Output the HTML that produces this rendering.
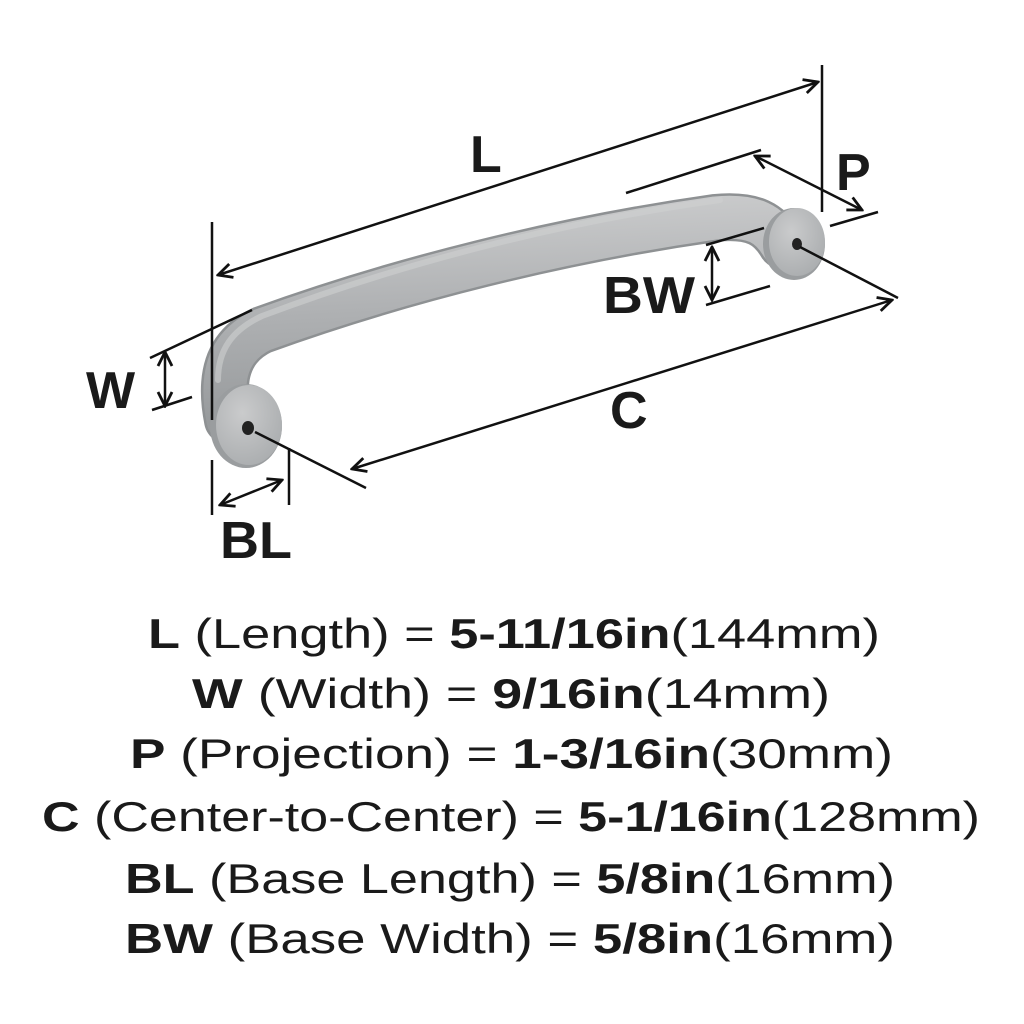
<!DOCTYPE html>
<html><head><meta charset="utf-8"><style>
html,body{margin:0;padding:0;background:#fff;}
svg{display:block;}
text{font-family:"Liberation Sans",sans-serif;fill:#1a1a1a;}
</style></head><body>
<svg width="1024" height="1024" viewBox="0 0 1024 1024" xmlns="http://www.w3.org/2000/svg">
<defs>
<linearGradient id="bar" x1="0" y1="0" x2="0.12" y2="1">
<stop offset="0" stop-color="#c9cacb"/><stop offset="0.5" stop-color="#aeb0b2"/><stop offset="1" stop-color="#979a9c"/>
</linearGradient>
<radialGradient id="disc" cx="0.4" cy="0.35" r="0.8">
<stop offset="0" stop-color="#cacbcc"/><stop offset="1" stop-color="#a6a9ab"/>
</radialGradient>
<marker id="ah" viewBox="0 0 10 10" refX="9" refY="5" markerWidth="7" markerHeight="7" orient="auto-start-reverse">
<path d="M1,1 L9,5 L1,9" fill="none" stroke="#111" stroke-width="1.6"/>
</marker>
</defs>
<!-- handle -->
<path d="M228,420 C222,390 220,350 262,330 C400,280 560,240 715,218 C755,214 770,225 782,245" fill="none" stroke="#8e9193" stroke-width="48" stroke-linecap="round"/>
<path d="M228,420 C222,390 220,350 262,330 C400,280 560,240 715,218 C755,214 770,225 782,245" fill="none" stroke="url(#bar)" stroke-width="43" stroke-linecap="round"/>
<path d="M218,380 C218,350 232,330 262,316 C400,264 560,222 720,200" fill="none" stroke="#cfd0d1" stroke-width="6" stroke-linecap="round" opacity="0.6"/>
<ellipse cx="794" cy="244" rx="31" ry="36" fill="#9a9d9f"/>
<ellipse cx="797" cy="242" rx="28" ry="34" fill="url(#disc)"/>
<ellipse cx="797" cy="244" rx="5" ry="6" fill="#222"/>
<ellipse cx="246" cy="426" rx="36" ry="42" fill="#9a9d9f"/>
<ellipse cx="249" cy="425" rx="33" ry="40" fill="url(#disc)"/>
<ellipse cx="248" cy="428" rx="6" ry="7" fill="#222"/>
<g stroke="#111" stroke-width="2.5" fill="none">
<line x1="218" y1="275" x2="818" y2="82" marker-start="url(#ah)" marker-end="url(#ah)"/>
<line x1="822" y1="65" x2="822" y2="212"/>
<line x1="212" y1="222" x2="212" y2="420"/>
<line x1="626" y1="193" x2="761" y2="150"/>
<line x1="755" y1="156" x2="862" y2="210" marker-start="url(#ah)" marker-end="url(#ah)"/>
<line x1="830" y1="226" x2="878" y2="212"/>
<line x1="706" y1="245" x2="764" y2="228"/>
<line x1="712" y1="247" x2="712" y2="300" marker-start="url(#ah)" marker-end="url(#ah)"/>
<line x1="706" y1="305" x2="770" y2="286"/>
<line x1="150" y1="358" x2="252" y2="310"/>
<line x1="165" y1="352" x2="165" y2="406" marker-start="url(#ah)" marker-end="url(#ah)"/>
<line x1="152" y1="410" x2="192" y2="397"/>
<line x1="255" y1="432" x2="366" y2="488"/>
<line x1="800" y1="247" x2="898" y2="298"/>
<line x1="352" y1="469" x2="892" y2="300" marker-start="url(#ah)" marker-end="url(#ah)"/>
<line x1="212" y1="460" x2="212" y2="515"/>
<line x1="289" y1="448" x2="289" y2="505"/>
<line x1="220" y1="505" x2="282" y2="480" marker-start="url(#ah)" marker-end="url(#ah)"/>
</g>
<g font-weight="bold" font-size="52">
<text x="470" y="172">L</text>
<text x="836" y="190">P</text>
<text x="603" y="313" textLength="92" lengthAdjust="spacingAndGlyphs">BW</text>
<text x="86" y="408">W</text>
<text x="610" y="428">C</text>
<text x="220" y="558" textLength="72" lengthAdjust="spacingAndGlyphs">BL</text>
</g>
<g font-size="42">
<text x="148" y="648" textLength="732" lengthAdjust="spacingAndGlyphs"><tspan font-weight="bold">L</tspan> (Length) = <tspan font-weight="bold">5-11/16in</tspan>(144mm)</text>
<text x="192" y="708" textLength="638" lengthAdjust="spacingAndGlyphs"><tspan font-weight="bold">W</tspan> (Width) = <tspan font-weight="bold">9/16in</tspan>(14mm)</text>
<text x="130" y="768" textLength="763" lengthAdjust="spacingAndGlyphs"><tspan font-weight="bold">P</tspan> (Projection) = <tspan font-weight="bold">1-3/16in</tspan>(30mm)</text>
<text x="42" y="831" textLength="938" lengthAdjust="spacingAndGlyphs"><tspan font-weight="bold">C</tspan> (Center-to-Center) = <tspan font-weight="bold">5-1/16in</tspan>(128mm)</text>
<text x="125" y="893" textLength="770" lengthAdjust="spacingAndGlyphs"><tspan font-weight="bold">BL</tspan> (Base Length) = <tspan font-weight="bold">5/8in</tspan>(16mm)</text>
<text x="125" y="953" textLength="770" lengthAdjust="spacingAndGlyphs"><tspan font-weight="bold">BW</tspan> (Base Width) = <tspan font-weight="bold">5/8in</tspan>(16mm)</text>
</g>
</svg>
</body></html>
